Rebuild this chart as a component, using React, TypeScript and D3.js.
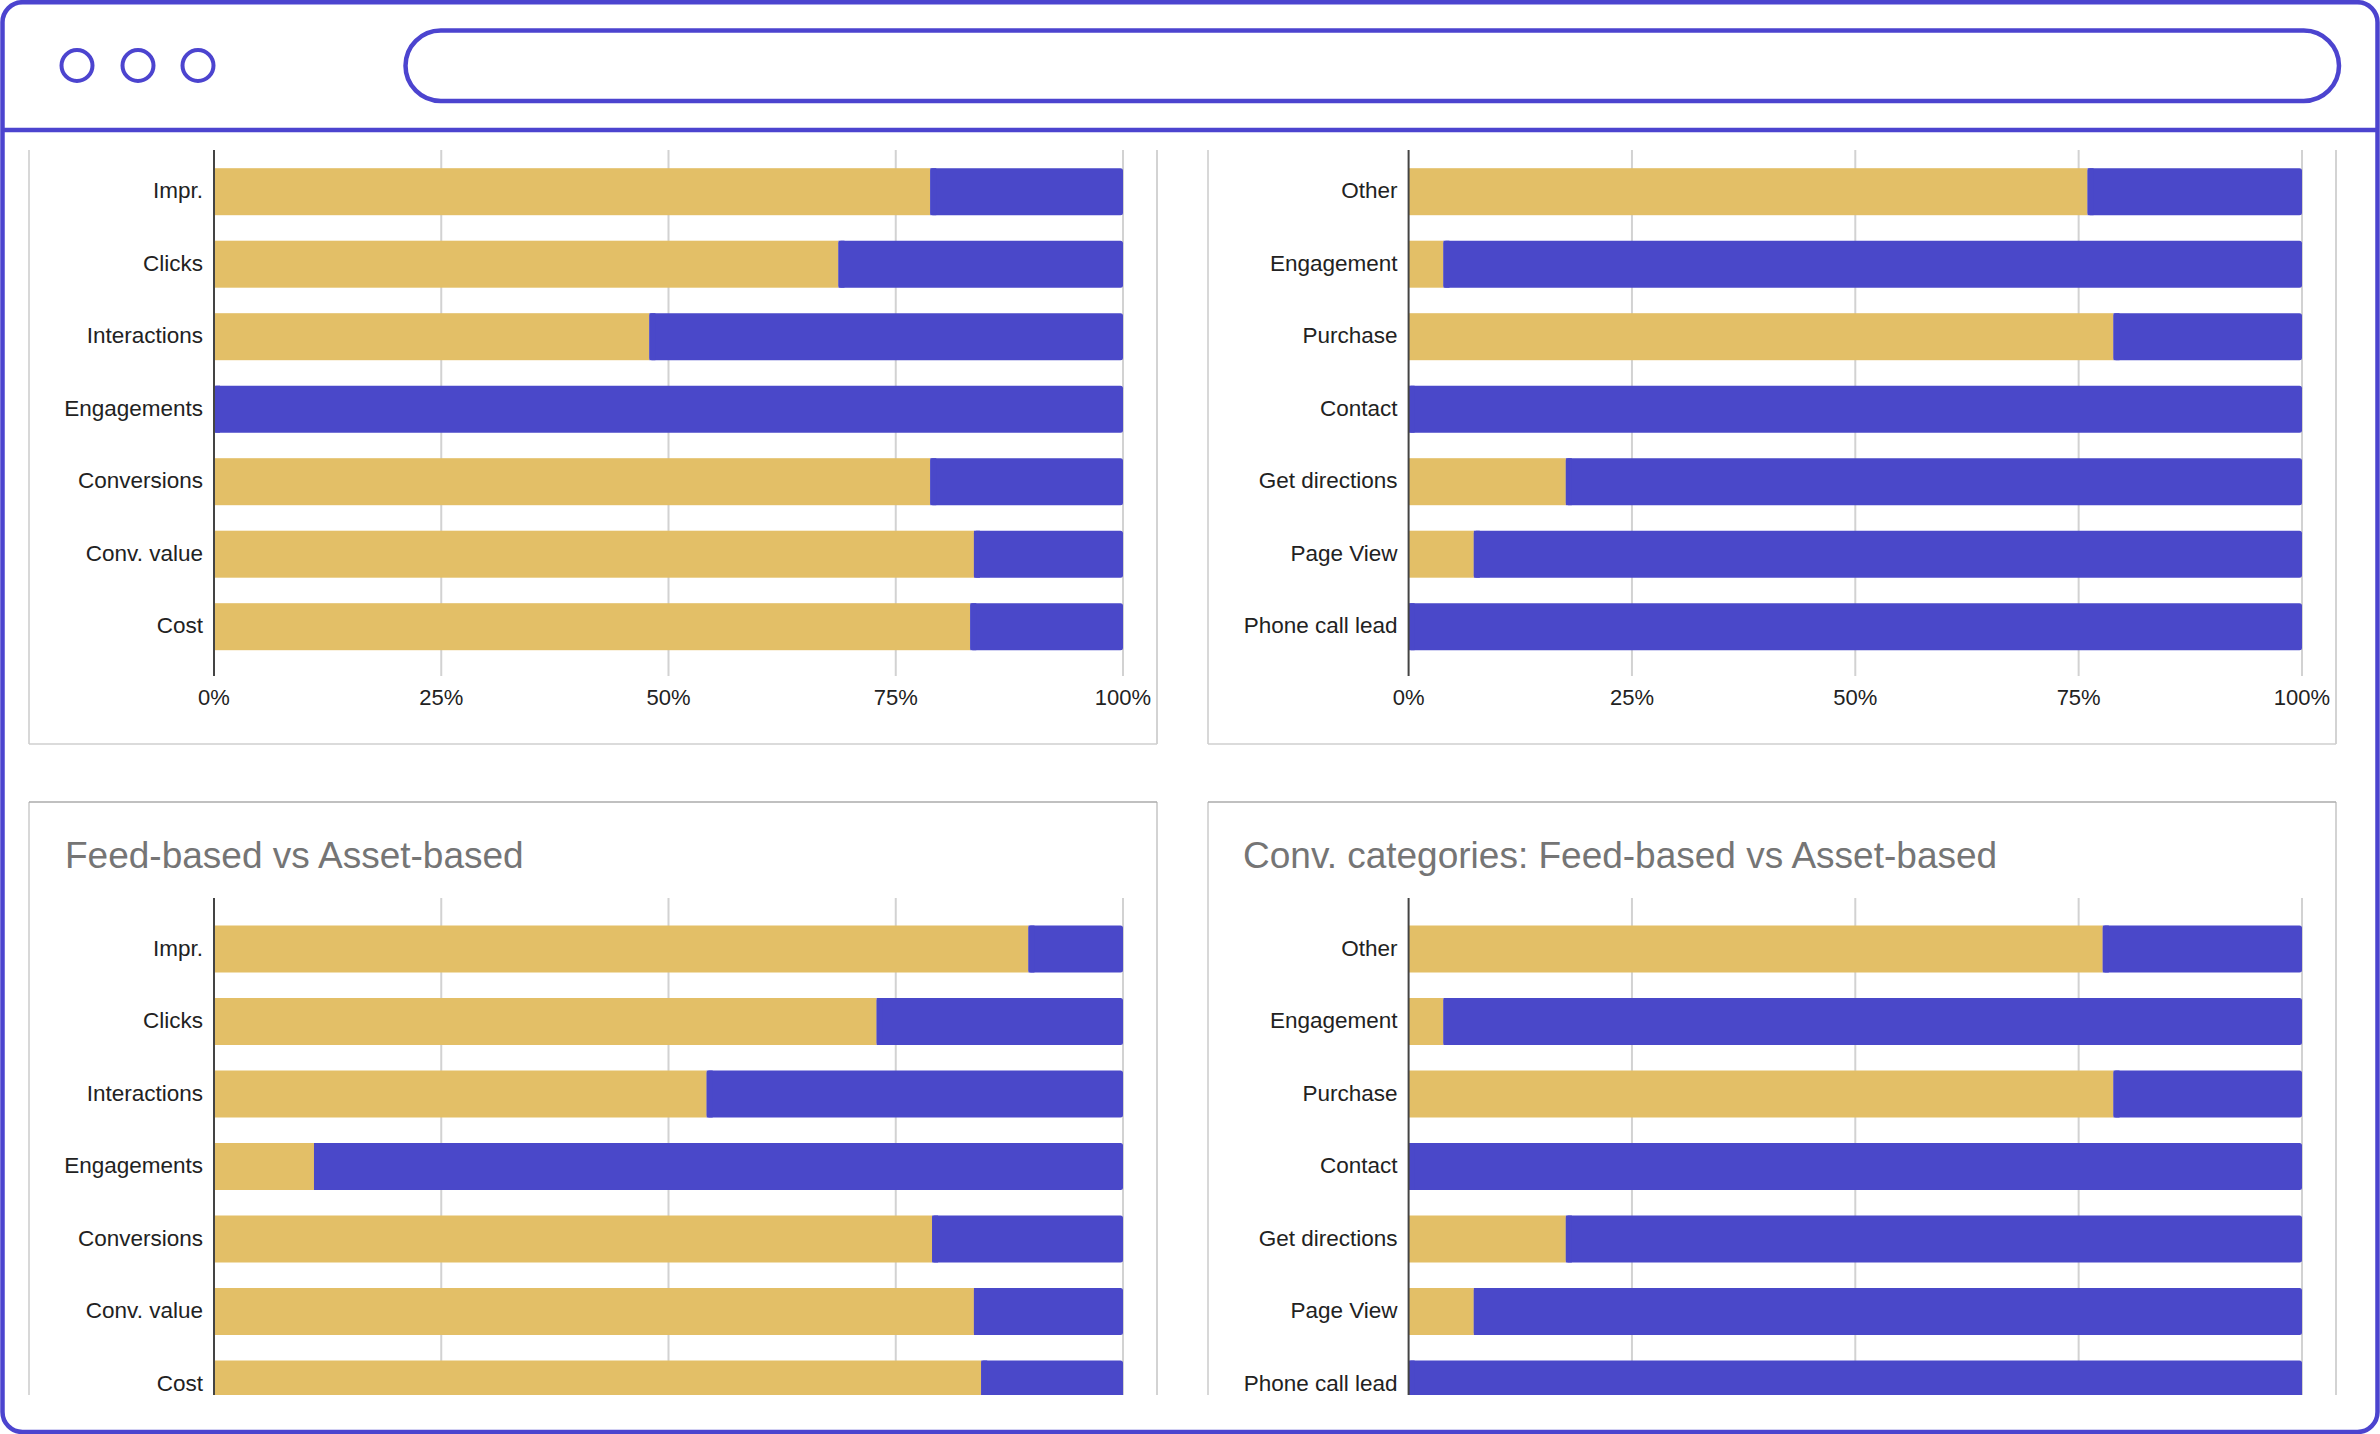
import * as d3 from "d3";

// categories
const metricLabels = ["Impr.", "Clicks", "Interactions", "Engagements", "Conversions", "Conv. value", "Cost"];
const convLabels = ["Other", "Engagement", "Purchase", "Contact", "Get directions", "Page View", "Phone call lead"];

// share of feed-based (gold) / asset-based (purple)
const metricsFeedTop = [0.788, 0.687, 0.479, 0, 0.788, 0.836, 0.832];
const metricsAssetTop = [0.212, 0.313, 0.521, 1, 0.212, 0.164, 0.168];
const convFeedTop = [0.76, 0.039, 0.789, 0, 0.176, 0.073, 0];
const convAssetTop = [0.24, 0.961, 0.211, 1, 0.824, 0.927, 1];
const metricsFeedBottom = [0.896, 0.729, 0.542, 0.11, 0.79, 0.836, 0.844];
const metricsAssetBottom = [0.104, 0.271, 0.458, 0.89, 0.21, 0.164, 0.156];
const convFeedBottom = [0.777, 0.039, 0.789, 0, 0.176, 0.073, 0];
const convAssetBottom = [0.223, 0.961, 0.211, 1, 0.824, 0.927, 1];

const xTicks = [0, 0.25, 0.5, 0.75, 1];
const titleBottomLeft = "Feed-based vs Asset-based";
const titleBottomRight = "Conv. categories: Feed-based vs Asset-based";

const W = 2380;
const H = 1434;
const FRAME = "#4C44CF";
const GOLD = "#E3BF67";
const PURPLE = "#4A48C9";
const FONT = "'Liberation Sans', Arial, Helvetica, sans-serif";

type Row = { cat: string; feed: number; asset: number };

type PanelProps = {
    left: number;
    right: number;
    panelTop: number | null;
    panelBottom: number;
    axisX: number;
    fullX: number;
    axisTop: number;
    firstCenter: number;
    categories: string[];
    feed: number[];
    asset: number[];
    showTicks: boolean;
    title?: string;
    titleX?: number;
};

function StackedPanel(p: PanelProps) {
    const rows: Row[] = p.categories.map((c, i) => ({ cat: c, feed: p.feed[i], asset: p.asset[i] }));
    const step = 72.5;
    const inner = 1 - 47 / step;
    const r0 = p.firstCenter - step / 2;
    const y = d3
        .scaleBand()
        .domain(p.categories)
        .range([r0, r0 + step * p.categories.length])
        .paddingInner(inner)
        .paddingOuter(inner / 2);
    const x = d3.scaleLinear().domain([0, 1]).range([p.axisX, p.fullX]);
    const series = d3
        .stack<Row>()
        .keys(["feed", "asset"])
        .offset(d3.stackOffsetExpand)(rows);
    const axisBottom = p.axisTop + 526;
    const fmt = d3.format(".0%");
    const top = p.panelTop ?? p.axisTop;

    return (
        <g>
            {/* panel border */}
            <line x1={p.left} x2={p.left} y1={top} y2={p.panelBottom} stroke="#cfcfcf" strokeWidth={1.6} />
            <line x1={p.right} x2={p.right} y1={top} y2={p.panelBottom} stroke="#c8c8c8" strokeWidth={1.6} />
            <line x1={p.left} x2={p.right} y1={p.panelBottom} y2={p.panelBottom} stroke="#cfcfcf" strokeWidth={1.6} />
            {p.panelTop !== null && (
                <line x1={p.left} x2={p.right} y1={p.panelTop} y2={p.panelTop} stroke="#ababab" strokeWidth={1.6} />
            )}
            {p.title && (
                <text x={p.titleX} y={p.panelTop! + 65.5} fontFamily={FONT} fontSize={37} fill="#757575">
                    {p.title}
                </text>
            )}
            {xTicks.slice(1).map((t) => (
                <line key={t} x1={x(t)} x2={x(t)} y1={p.axisTop} y2={axisBottom} stroke="#d2d2d2" strokeWidth={2} />
            ))}
            {series.map((s) =>
                s.map((d) => {
                    const x0 = x(d[0]);
                    const x1 = x(d[1]);
                    if (x1 - x0 <= 0) return null;
                    return (
                        <rect
                            key={`${s.key}-${d.data.cat}`}
                            x={x0}
                            y={y(d.data.cat)}
                            width={x1 - x0}
                            height={y.bandwidth()}
                            fill={s.key === "feed" ? GOLD : PURPLE}
                            rx={s.key === "asset" ? 2.5 : 0}
                        />
                    );
                })
            )}
            {/* square off the left side of purple segments */}
            {series[1].map((d) => {
                const x0 = x(d[0]);
                const x1 = x(d[1]);
                if (x1 - x0 <= 6) return null;
                return (
                    <rect key={`sq-${d.data.cat}`} x={x0} y={y(d.data.cat)} width={6} height={y.bandwidth()} fill={PURPLE} />
                );
            })}
            <line x1={p.axisX} x2={p.axisX} y1={p.axisTop} y2={axisBottom} stroke="#444" strokeWidth={2} />
            {p.categories.map((c) => (
                <text
                    key={c}
                    x={p.axisX - 11}
                    y={(y(c) ?? 0) + y.bandwidth() / 2 + 6.5}
                    textAnchor="end"
                    fontFamily={FONT}
                    fontSize={22.5}
                    fill="#222"
                >
                    {c}
                </text>
            ))}
            {p.showTicks &&
                xTicks.map((t) => (
                    <text
                        key={`t${t}`}
                        x={x(t)}
                        y={axisBottom + 29}
                        textAnchor="middle"
                        fontFamily={FONT}
                        fontSize={22}
                        fill="#222"
                    >
                        {fmt(t)}
                    </text>
                ))}
        </g>
    );
}

export default function App() {
    const dotsX = [77, 138, 198];
    return (
        <div style={{ position: "absolute", left: 0, top: 0, width: W, height: H, background: "#fff" }}>
            <svg width={W} height={H} viewBox={`0 0 ${W} ${H}`}>
                <defs>
                    <clipPath id="content">
                        <rect x={4} y={148} width={W - 8} height={1395 - 148} />
                    </clipPath>
                </defs>
                <g clipPath="url(#content)">
                    <StackedPanel
                        left={29}
                        right={1157}
                        panelTop={null}
                        panelBottom={744}
                        axisX={214}
                        fullX={1123}
                        axisTop={150}
                        firstCenter={191.7}
                        categories={metricLabels}
                        feed={metricsFeedTop}
                        asset={metricsAssetTop}
                        showTicks={true}
                    />
                    <StackedPanel
                        left={1208}
                        right={2336}
                        panelTop={null}
                        panelBottom={744}
                        axisX={1408.6}
                        fullX={2302}
                        axisTop={150}
                        firstCenter={191.7}
                        categories={convLabels}
                        feed={convFeedTop}
                        asset={convAssetTop}
                        showTicks={true}
                    />
                    <StackedPanel
                        left={29}
                        right={1157}
                        panelTop={802}
                        panelBottom={1500}
                        axisX={214}
                        fullX={1123}
                        axisTop={898}
                        firstCenter={949}
                        categories={metricLabels}
                        feed={metricsFeedBottom}
                        asset={metricsAssetBottom}
                        showTicks={false}
                        title={titleBottomLeft}
                        titleX={65}
                    />
                    <StackedPanel
                        left={1208}
                        right={2336}
                        panelTop={802}
                        panelBottom={1500}
                        axisX={1408.6}
                        fullX={2302}
                        axisTop={898}
                        firstCenter={949}
                        categories={convLabels}
                        feed={convFeedBottom}
                        asset={convAssetBottom}
                        showTicks={false}
                        title={titleBottomRight}
                        titleX={1243}
                    />
                </g>
                {/* browser window frame */}
                <rect x={2.5} y={2.2} width={2375} height={1429.8} rx={20} fill="none" stroke={FRAME} strokeWidth={4.5} />
                <line x1={2.5} x2={2377.5} y1={130} y2={130} stroke={FRAME} strokeWidth={4.5} />
                {dotsX.map((cx) => (
                    <circle key={cx} cx={cx} cy={65.5} r={15.5} fill="none" stroke={FRAME} strokeWidth={4} />
                ))}
                <rect x={405.5} y={30.5} width={1933.5} height={70.5} rx={35.25} fill="none" stroke={FRAME} strokeWidth={4.5} />
            </svg>
        </div>
    );
}
